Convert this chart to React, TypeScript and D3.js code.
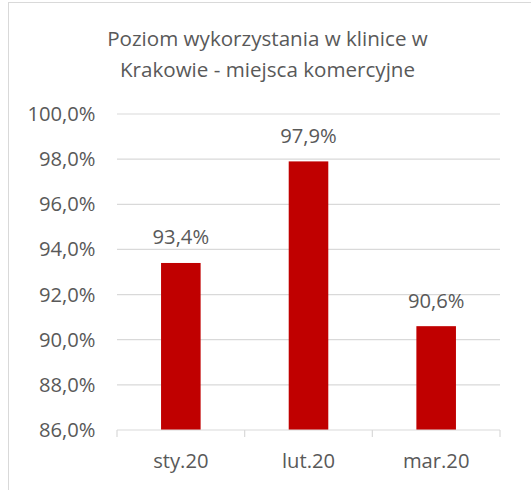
import React from "react";
import * as d3 from "d3";

const categories = ["sty.20", "lut.20", "mar.20"];
const values = [93.4, 97.9, 90.6];
const yTicks = [86, 88, 90, 92, 94, 96, 98, 100];
const titleLines = ["Poziom wykorzystania w klinice w", "Krakowie - miejsca komercyjne"];

const W = 531;
const H = 490;
const FONT = "'Open Sans', sans-serif";
const TEXT = "#595959";
const GRID = "#D9D9D9";
const BAR = "#C00000";

const fmt = (v: number) => v.toFixed(1).replace(".", ",") + "%";

export default function App() {
  const x = d3.scaleBand<string>().domain(categories).range([117, 500]).paddingInner(0.69).paddingOuter(0.345);
  const step = (500 - 117) / categories.length;
  const y = d3.scaleLinear().domain([86, 100]).range([430, 114]);
  return (
    <svg width={W} height={H} style={{ position: "absolute", left: 0, top: 0, display: "block" }}>
      <rect x={0} y={0} width={W} height={H} fill="#fff" />
      <line x1={8} y1={2.5} x2={W} y2={2.5} stroke={GRID} strokeWidth={1} />
      <line x1={8.5} y1={2} x2={8.5} y2={H} stroke={GRID} strokeWidth={1} />
      {titleLines.map((t, i) => (
        <text key={i} x={267.5} y={45.5 + i * 31} textAnchor="middle" fontFamily={FONT} fontSize={20.6} fill={TEXT}>
          {t}
        </text>
      ))}
      {yTicks.map((t) => (
        <g key={t}>
          {t !== 86 && <line x1={117} x2={500} y1={y(t)} y2={y(t)} stroke={GRID} strokeWidth={1.2} />}
          <text x={95.5} y={y(t) + 7} textAnchor="end" fontFamily={FONT} fontSize={20.2} fill={TEXT}>
            {fmt(t)}
          </text>
        </g>
      ))}
      {categories.map((c, i) => (
        <rect key={c} x={x(c)} y={y(values[i])} width={x.bandwidth()} height={y(86) - y(values[i])} fill={BAR} />
      ))}
      <line x1={117} x2={500} y1={y(86)} y2={y(86)} stroke={GRID} strokeWidth={1.2} />
      {d3.range(categories.length + 1).map((i) => (
        <line key={i} x1={117 + i * step} x2={117 + i * step} y1={y(86)} y2={y(86) + 7} stroke={GRID} strokeWidth={1.2} />
      ))}
      {categories.map((c, i) => (
        <g key={c}>
          <text x={(x(c) as number) + x.bandwidth() / 2} y={y(values[i]) - 18.5} textAnchor="middle" fontFamily={FONT} fontSize={20.2} fill={TEXT}>
            {fmt(values[i])}
          </text>
          <text x={(x(c) as number) + x.bandwidth() / 2} y={468} textAnchor="middle" fontFamily={FONT} fontSize={20.2} fill={TEXT}>
            {c}
          </text>
        </g>
      ))}
    </svg>
  );
}
